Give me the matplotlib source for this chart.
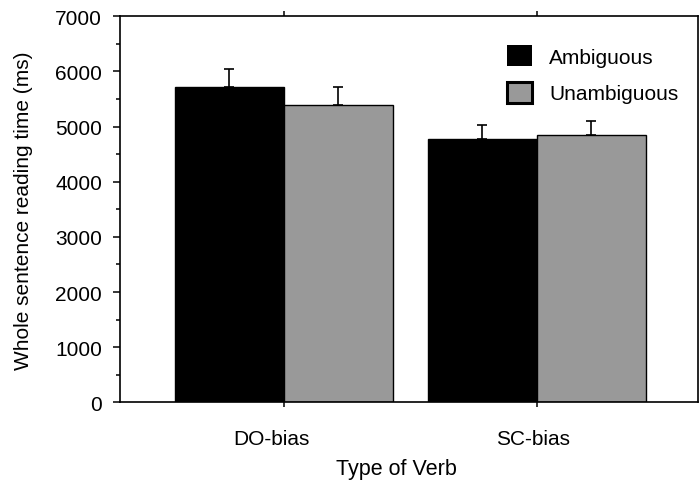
import matplotlib
matplotlib.use("Agg")
import matplotlib.pyplot as plt
from matplotlib.ticker import MultipleLocator
import matplotlib.transforms as mtransforms
import numpy as np

plt.rcParams['font.family'] = ['Liberation Sans', 'DejaVu Sans']

categories = ["DO-bias", "SC-bias"]
ambiguous = [5720, 4780]
ambiguous_err = [320, 250]
unambiguous = [5390, 4850]
unambiguous_err = [325, 250]
series_names = ["Ambiguous", "Unambiguous"]

FS = 15

fig = plt.figure(figsize=(7.0, 4.81), dpi=100)
ax = fig.add_axes([120/700, 1-403.3/481, (698-120)/700, (403.3-17.3)/481])

x = np.arange(len(categories))
w = 0.43
ax.bar(x - w/2, ambiguous, w, color='black', edgecolor='black', linewidth=1, label=series_names[0], zorder=2)
ax.bar(x + w/2, unambiguous, w, color='#999999', edgecolor='black', linewidth=1, label=series_names[1], zorder=2)
ax.errorbar(x - w/2, ambiguous, yerr=[[0]*len(x), ambiguous_err], fmt='none', ecolor='black',
            elinewidth=1.2, capsize=3.3, capthick=1.2, zorder=1)
ax.errorbar(x + w/2, unambiguous, yerr=[[0]*len(x), unambiguous_err], fmt='none', ecolor='black',
            elinewidth=1.2, capsize=3.3, capthick=1.2, zorder=1)

ax.set_xlim(-0.646, 1.636)
ax.set_ylim(0, 7000)
ax.set_xticks(x)
ax.set_xticklabels(categories)
ax.yaxis.set_major_locator(MultipleLocator(1000))
ax.yaxis.set_minor_locator(MultipleLocator(500))
ax.tick_params(axis='y', which='major', direction='out', length=5, width=1.1, labelsize=FS, pad=8)
ax.tick_params(axis='y', which='minor', direction='out', length=2.7, width=1.1)
ax.tick_params(axis='x', which='major', direction='out', length=3.3, width=1.1, labelsize=FS, pad=16,
               top=True)
for s in ax.spines.values():
    s.set_linewidth(1.2)

# slight leftward shifts of category labels as in the reference
shifts_px = [-12, -4]
for lbl, dx in zip(ax.get_xticklabels(), shifts_px):
    lbl.set_transform(lbl.get_transform() + mtransforms.ScaledTranslation(dx/100, 0, fig.dpi_scale_trans))

ax.set_ylabel("Whole sentence reading time (ms)", fontsize=FS)
ax.yaxis.set_label_coords((33-120)/578, 0.5)
ax.set_xlabel("Type of Verb", fontsize=15.5)
ax.xaxis.set_label_coords((396-120)/578, -(459-403.3)/386)

leg = ax.legend(loc='upper left', bbox_to_anchor=(506.7/700, 1-46/481), bbox_transform=fig.transFigure,
                frameon=False, fontsize=FS, borderpad=0, borderaxespad=0,
                handlelength=1.2, handleheight=1.2, handletextpad=0.85, labelspacing=0.72)
leg.legend_handles[0].set_linewidth(0)
leg.legend_handles[1].set_linewidth(2.2)

fig.savefig("out.png", dpi=100)
